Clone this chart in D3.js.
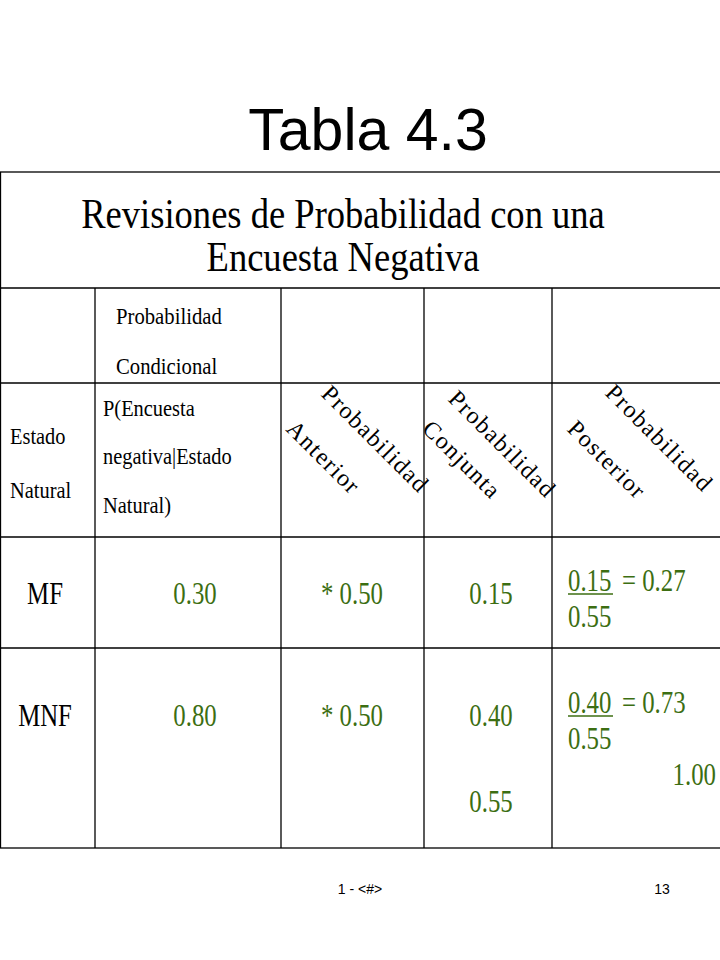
<!DOCTYPE html>
<html><head><meta charset="utf-8">
<script src="https://cdn.jsdelivr.net/npm/d3@7"></script>
<style>body{margin:0;background:#fff}</style>
</head><body><div id="chart"></div>
<script>
const states = ["MF", "MNF"];
const conditional = ["0.30", "0.80"];
const prior = ["* 0.50", "* 0.50"];
const joint = ["0.15", "0.40"];
const jointTotal = "0.55";
const posterior = ["0.27", "0.73"];
const posteriorTotal = "1.00";
const rotatedHeaders = [["Probabilidad", "Anterior"], ["Probabilidad", "Conjunta"], ["Probabilidad", "Posterior"]];

const W = 720, H = 960;
const green = "#3c6e12";
const serif = "'Liberation Serif', 'Times New Roman', serif";
const sans = "'Liberation Sans', Arial, sans-serif";
const svg = d3.select("#chart").append("svg").attr("width", W).attr("height", H);

svg.append("text").attr("x", 368).attr("y", 150).attr("text-anchor", "middle")
  .attr("font-family", sans).attr("font-size", 59).text("Tabla 4.3");

const colX = [0, 95, 281, 424, 552, 722];
const rowY = [172, 288, 383, 537, 648, 848];

const g = svg.append("g").attr("stroke", "#000").attr("stroke-width", 1.3);
g.append("rect").attr("x", 0.5).attr("y", rowY[0]).attr("width", 722).attr("height", rowY[5] - rowY[0]).attr("fill", "none");
rowY.slice(1, 5).forEach(y => g.append("line").attr("x1", 0).attr("x2", W).attr("y1", y).attr("y2", y));
colX.slice(1, 5).forEach(cx => g.append("line").attr("x1", cx).attr("x2", cx).attr("y1", rowY[1]).attr("y2", rowY[5]));

// text helper: sx compresses horizontally like the narrow slide font
const txt = (t, px, py, o = {}) => svg.append("text")
  .attr("transform", `translate(${px},${py}) scale(${o.sx || 1},1)`)
  .attr("font-family", serif).attr("font-size", o.size || 24).attr("fill", o.fill || "#000")
  .attr("text-anchor", o.anchor || "start").text(t);

txt("Revisiones de Probabilidad con una", 343, 228, {size: 42, anchor: "middle", sx: 0.87});
txt("Encuesta Negativa", 343, 271, {size: 42, anchor: "middle", sx: 0.87});

txt("Probabilidad", 116, 324, {size: 23, sx: 0.9});
txt("Condicional", 116, 374, {size: 23, sx: 0.9});
txt("Estado", 10, 444, {size: 24, sx: 0.85});
txt("Natural", 10, 498, {size: 24, sx: 0.85});
txt("P(Encuesta", 103, 416, {size: 24, sx: 0.85});
txt("negativa|Estado", 103, 464, {size: 24, sx: 0.85});
txt("Natural)", 103, 513, {size: 24, sx: 0.85});

const rotStart = [[[320, 395], [285, 430]], [[447, 400], [421, 430]], [[604, 394], [566, 430]]];
rotatedHeaders.forEach((lines, i) => lines.forEach((t, j) => {
  const [px, py] = rotStart[i][j];
  svg.append("text").attr("transform", `translate(${px},${py}) rotate(45)`)
    .attr("font-family", serif).attr("font-size", 24).attr("letter-spacing", 1.5).text(t);
}));

const val = {fill: green, size: 31, sx: 0.8};
const rowMid = [593, 715];
states.forEach((s, i) => {
  txt(s, 45, rowMid[i] + 11, {size: 31, sx: 0.8, anchor: "middle"});
  txt(conditional[i], 195, rowMid[i] + 11, {...val, anchor: "middle"});
  txt(prior[i], 352, rowMid[i] + 11, {...val, anchor: "middle"});
  txt(joint[i], 491, rowMid[i] + 11, {...val, anchor: "middle"});
  txt(joint[i], 568, rowMid[i] - 2, val);
  svg.append("line").attr("x1", 568).attr("x2", 613).attr("y1", rowMid[i] + 1).attr("y2", rowMid[i] + 1)
    .attr("stroke", green).attr("stroke-width", 1.3);
  txt("= " + posterior[i], 622, rowMid[i] - 2, val);
  txt(jointTotal, 568, rowMid[i] + 34, val);
});
txt(jointTotal, 491, 812, {...val, anchor: "middle"});
txt(posteriorTotal, 716, 785, {...val, anchor: "end"});

const foot = (t, px) => svg.append("text").attr("x", px).attr("y", 894).attr("text-anchor", "middle")
  .attr("font-family", sans).attr("font-size", 14).text(t);
foot("1 - <#>", 360);
foot("13", 662);
</script></body></html>
